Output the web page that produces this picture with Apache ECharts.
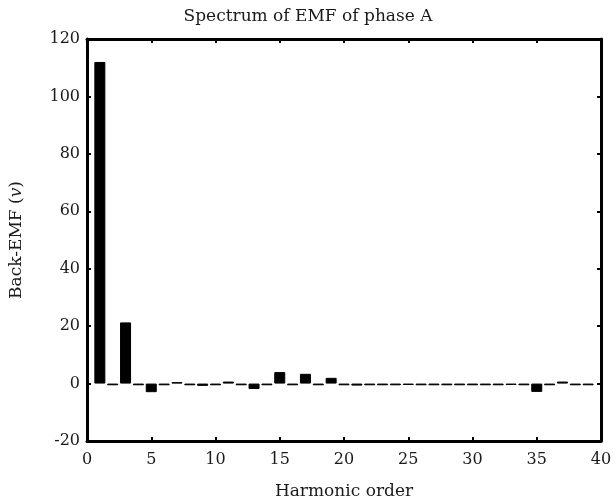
<!DOCTYPE html>
<html>
<head>
<meta charset="utf-8">
<script src="https://cdn.jsdelivr.net/npm/echarts@6/dist/echarts.min.js"></script>
<style>
  html, body { margin: 0; padding: 0; background: #fff; }
  #chart { width: 616px; height: 498px; }
</style>
</head>
<body>
<div id="chart"></div>
<script>
// harmonic orders and back-EMF amplitude (v)
const harmonics = [1, 2, 3, 4, 5, 6, 7, 8, 9, 10, 11, 12, 13, 14, 15, 16, 17, 18, 19, 20,
  21, 22, 23, 24, 25, 26, 27, 28, 29, 30, 31, 32, 33, 34, 35, 36, 37, 38, 39]
const emf = [112.0, -0.6, 21.3, -0.6, -3.0, -0.6, 0.5, -0.6, -0.8, -0.6, 0.7, -0.6, -1.9, -0.6, 4.0, -0.6, 3.4, -0.6, 2.0, -0.6,
  -0.7, -0.6, -0.6, -0.6, -0.5, -0.6, -0.6, -0.6, -0.6, -0.6, -0.6, -0.6, -0.5, -0.6, -2.9, -0.6, 0.7, -0.6, -0.6]
const xTicks = [0, 40, 5]     // min, max, step
const yTicks = [-20, 120, 20]

const font = 'DejaVu Serif'
const ink = '#1a1a1a'
const chart = echarts.init(document.getElementById('chart'))

const lineStyle = { color: '#000', width: 3 }
const tickStyle = { show: true, inside: true, length: 4, lineStyle: { color: '#000', width: 2 } }

chart.setOption({
  animation: false,
  backgroundColor: '#fff',
  title: {
    text: 'Spectrum of EMF of phase A',
    left: 'center',
    top: 3,
    textStyle: { fontFamily: font, fontSize: 17, fontWeight: 'normal', color: ink }
  },
  grid: { left: 87, right: 15, top: 39, bottom: 57, outerBoundsMode: 'none' },
  xAxis: [
    {
      type: 'value',
      min: xTicks[0], max: xTicks[1], interval: xTicks[2],
      name: 'Harmonic order',
      nameLocation: 'middle',
      nameGap: 42,
      nameTextStyle: { fontFamily: font, fontSize: 17, color: ink },
      axisLine: { show: true, onZero: false, lineStyle },
      axisTick: tickStyle,
      axisLabel: { fontFamily: font, fontSize: 16, color: ink, margin: 11 },
      splitLine: { show: false }
    },
    {
      type: 'value', position: 'top',
      min: xTicks[0], max: xTicks[1], interval: xTicks[2],
      axisLine: { show: true, onZero: false, lineStyle },
      axisTick: tickStyle,
      axisLabel: { show: false },
      splitLine: { show: false }
    }
  ],
  yAxis: [
    {
      type: 'value',
      min: yTicks[0], max: yTicks[1], interval: yTicks[2],
      name: '{a|Back-EMF (}{i|v}{a|)}',
      nameLocation: 'middle',
      nameGap: 62,
      nameRotate: 90,
      nameTextStyle: {
        rich: {
          a: { fontFamily: font, fontSize: 17, color: ink },
          i: { fontFamily: font, fontSize: 17, fontStyle: 'italic', color: ink }
        }
      },
      axisLine: { show: true, onZero: false, lineStyle },
      axisTick: tickStyle,
      axisLabel: { fontFamily: font, fontSize: 16, color: ink, margin: 7 },
      splitLine: { show: false }
    },
    {
      type: 'value', position: 'right',
      min: yTicks[0], max: yTicks[1], interval: yTicks[2],
      axisLine: { show: true, onZero: false, lineStyle },
      axisTick: tickStyle,
      axisLabel: { show: false },
      splitLine: { show: false }
    }
  ],
  series: [
    {
      type: 'bar',
      data: harmonics.map((h, i) => [h, emf[i]]),
      barWidth: 11,
      itemStyle: { color: '#000', borderColor: '#000', borderWidth: 1, borderJoin: 'miter' }
    }
  ]
})
</script>
</body>
</html>
